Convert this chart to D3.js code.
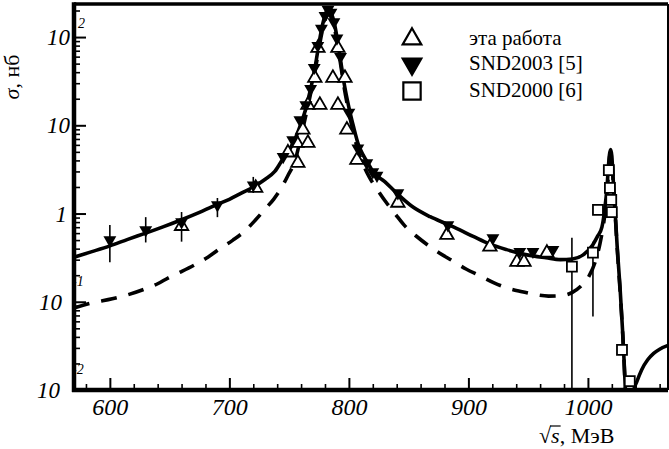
<!DOCTYPE html>
<html>
<head>
<meta charset="utf-8">
<script src="https://cdn.jsdelivr.net/npm/d3@7"></script>
<style>
  html, body { margin: 0; padding: 0; background: #fff; }
  svg { display: block; }
</style>
</head>
<body>
<svg id="chart" width="669" height="449"></svg>
<script>
// Full fit: energy (MeV) and cross-section (nb)
const fitEnergy = [570, 585, 600, 615, 630, 645, 660, 675, 690, 700, 710, 720, 730, 738, 745, 750, 755,
  760, 764, 768, 771, 774, 777, 780, 782.5, 785, 788, 790, 793, 796, 800, 804, 808, 812, 816, 820,
  830, 840, 853, 868, 882, 890, 904, 918, 932, 949, 965, 977, 987, 996, 1004, 1008, 1011.7, 1014,
  1016, 1017, 1018, 1019, 1020, 1021, 1022.6, 1024.5, 1026.8, 1029.3, 1031, 1032, 1033.5,
  1036.5, 1038, 1041, 1045, 1050, 1055, 1060, 1067];
const fitSigma = [0.32, 0.37, 0.43, 0.51, 0.60, 0.71, 0.85, 1.03, 1.27, 1.45, 1.70, 2.0, 2.45, 3.0, 4.2, 5.2, 7.0,
  10.5, 15.5, 26, 40, 70, 120, 175, 210, 190, 140, 100, 55, 30, 16, 9.5, 6.0, 4.6, 3.7, 3.0,
  2.3, 1.7, 1.2, 0.92, 0.76, 0.68, 0.55, 0.45, 0.39, 0.34, 0.315, 0.30, 0.305, 0.34, 0.44, 0.55, 0.70, 1.1,
  2.0, 3.2, 4.6, 5.3, 4.5, 2.6, 1.15, 0.42, 0.15, 0.04, 0.013, 0.006, 0.0008,
  0.0008, 0.0095, 0.0125, 0.017, 0.022, 0.026, 0.029, 0.032];

// Dashed curve
const dashEnergy = [570, 585, 602, 615, 627, 640, 649, 660, 671, 682, 692, 703, 713, 722, 730, 737, 743, 749,
  755, 760, 764, 768, 771, 774, 777, 780, 782.5, 785, 788, 790, 793, 796, 800, 804, 808, 812, 817,
  824, 831, 839, 847, 856, 866, 876, 887, 898, 910, 921, 932, 945, 957, 967, 977, 987, 994, 1001,
  1006, 1010, 1013, 1015, 1017, 1018, 1019, 1020, 1021, 1022.6, 1024.5, 1026.8, 1029.3, 1031, 1033];
const dashSigma = [0.085, 0.097, 0.108, 0.12, 0.136, 0.16, 0.187, 0.22, 0.262, 0.32, 0.40, 0.50, 0.635, 0.85, 1.13, 1.45, 1.9, 2.7,
  4.0, 7.5, 13, 23, 37, 62, 105, 155, 185, 170, 125, 90, 50, 27, 14, 8, 5.0, 3.6, 2.6,
  1.85, 1.35, 0.98, 0.72, 0.56, 0.44, 0.355, 0.29, 0.235, 0.196, 0.165, 0.144, 0.13, 0.12, 0.116, 0.117, 0.128, 0.15, 0.196,
  0.28, 0.45, 0.75, 1.2, 2.6, 4.2, 5.0, 4.3, 2.5, 1.1, 0.4, 0.14, 0.038, 0.012, 0.002];

// This work (open triangles)
const workEnergy = [660, 722, 749, 756.5, 757.3, 761.5, 765.7, 765.7, 771.5, 774.1, 775.7, 786.6, 790.8, 790.8,
  796.7, 798.3, 806.7, 841, 882, 918, 940.6, 946.5, 965.7];
const workSigma = [0.72, 1.95, 4.9, 6.3, 3.74, 8.9, 17, 6.3, 34.4, 75, 17, 34.4, 75, 17,
  34.4, 8.9, 4.05, 1.32, 0.57, 0.42, 0.283, 0.283, 0.358];

// SND2003 (filled triangles) with error bounds
const snd03Energy = [600, 630, 660, 690, 720, 745, 753, 759, 764, 768, 771, 774, 777, 780, 782.5, 785, 787.5, 790,
  793, 800, 807.5, 815, 820, 823.5, 841, 882.8, 920.5, 943, 954, 970.7];
const snd03Sigma = [0.50, 0.65, 0.80, 1.25, 2.1, 4.4, 6.8, 11.5, 17, 26, 45, 80, 125, 175, 205, 190, 148, 97,
  60, 14, 5.5, 3.74, 2.96, 2.7, 1.71, 0.74, 0.53, 0.37, 0.37, 0.39];
const snd03Lo = [0.28, 0.47, 0.48, 0.91, 1.71];
const snd03Hi = [0.74, 0.91, 1.04, 1.5, 2.6];

// SND2000 (open squares) with error bounds
const snd00Energy = [986.6, 1004.2, 1008.4, 1017.5, 1018.4, 1019.5, 1020, 1028.5, 1035];
const snd00Sigma = [0.25, 0.36, 1.1, 3.1, 1.95, 1.43, 1.04, 0.0285, 0.0126];
const snd00Lo = [0.001, 0.068];
const snd00Hi = [0.53, 0.48];

const xTicks = [600, 700, 800, 900, 1000];
const yTicks = [100, 10, 1, 0.1, 0.01];
const yTickBase = ["10", "10", "1", "10", "10"];
const yTickExp = ["2", "", "", "-1", "-2"];
const legendLabels = ["эта работа", "SND2003 [5]", "SND2000 [6]"];

const serif = "'Liberation Serif'";
const svg = d3.select("#chart");
const pLeft = 74, pRight = 668, pTop = 4, pBottom = 390;

const x = d3.scaleLinear().domain([570, 1067]).range([pLeft, pRight]);
const y = d3.scaleLog().domain([0.01, 237]).range([pBottom, pTop]);

svg.append("defs").append("clipPath").attr("id", "plotClip")
  .append("rect").attr("x", pLeft).attr("y", pTop).attr("width", pRight - pLeft).attr("height", pBottom - pTop);

const plot = svg.append("g").attr("clip-path", "url(#plotClip)");

const line = d3.line().x(d => x(d[0])).y(d => y(d[1])).curve(d3.curveMonotoneX);

plot.append("path")
  .datum(d3.zip(dashEnergy, dashSigma))
  .attr("d", line).attr("fill", "none").attr("stroke", "#000")
  .attr("stroke-width", 3.6).attr("stroke-dasharray", "16,12");

plot.append("path")
  .datum(d3.zip(fitEnergy, fitSigma))
  .attr("d", line).attr("fill", "none").attr("stroke", "#000")
  .attr("stroke-width", 3.6).attr("stroke-linejoin", "round");

// error bars
const bars = [];
snd03Lo.forEach((lo, i) => bars.push([snd03Energy[i], lo, snd03Hi[i]]));
snd00Lo.forEach((lo, i) => bars.push([snd00Energy[i], lo, snd00Hi[i]]));
plot.selectAll("line.err").data(bars).join("line").attr("class", "err")
  .attr("x1", d => x(d[0])).attr("x2", d => x(d[0]))
  .attr("y1", d => y(d[1])).attr("y2", d => y(d[2]))
  .attr("stroke", "#000").attr("stroke-width", 1.6);

const square = d3.symbol(d3.symbolSquare, 100);
const triUp = d3.symbol(d3.symbolTriangle, 78);
const triDown = d3.symbol(d3.symbolTriangle, 72);

plot.selectAll("path.snd00").data(d3.zip(snd00Energy, snd00Sigma)).join("path").attr("class", "snd00")
  .attr("d", square).attr("transform", d => `translate(${x(d[0])},${y(d[1])})`)
  .attr("fill", "#fff").attr("stroke", "#000").attr("stroke-width", 1.8);

plot.selectAll("path.work").data(d3.zip(workEnergy, workSigma)).join("path").attr("class", "work")
  .attr("d", triUp).attr("transform", d => `translate(${x(d[0])},${y(d[1])})`)
  .attr("fill", "#fff").attr("stroke", "#000").attr("stroke-width", 1.8);

plot.selectAll("path.snd03").data(d3.zip(snd03Energy, snd03Sigma)).join("path").attr("class", "snd03")
  .attr("d", triDown).attr("transform", d => `translate(${x(d[0])},${y(d[1])}) rotate(180)`)
  .attr("fill", "#000");

// exponent marks of the y labels sit partly under the axis bar
const ySup = svg.append("g").attr("font-size", 14).attr("font-style", "italic");
yTicks.forEach((v, i) => {
  if (!yTickExp[i]) return;
  const isNeg = yTickExp[i][0] === "-";
  ySup.append("text")
    .attr("x", isNeg ? 72 : 78)
    .attr("y", y(v) - (isNeg ? 16 : 9))
    .text(yTickExp[i]);
});

// axes: ticks point inward
const yMinor = [];
[0.01, 0.1, 1, 10, 100].forEach(d => { for (let k = 2; k <= 9; k++) if (d * k < 237) yMinor.push(d * k); });
svg.append("g").attr("transform", `translate(${pLeft},0)`)
  .call(d3.axisLeft(y).tickValues(yMinor).tickSize(-6).tickFormat(""))
  .call(g => g.select(".domain").remove())
  .call(g => g.selectAll("line").attr("stroke-width", 1.6));
svg.append("g").attr("transform", `translate(${pLeft},0)`)
  .call(d3.axisLeft(y).tickValues(yTicks).tickSize(-12).tickFormat(""))
  .call(g => g.select(".domain").remove())
  .call(g => g.selectAll("line").attr("stroke-width", 2));

const xMinor = d3.range(580, 1067, 20).filter(v => v % 100 !== 0);
svg.append("g").attr("transform", `translate(0,${pBottom})`)
  .call(d3.axisBottom(x).tickValues(xMinor).tickSize(-6).tickFormat(""))
  .call(g => g.select(".domain").remove())
  .call(g => g.selectAll("line").attr("stroke-width", 1.6));
svg.append("g").attr("transform", `translate(0,${pBottom})`)
  .call(d3.axisBottom(x).tickValues(xTicks).tickSize(-12).tickPadding(8).tickFormat(d3.format("d")))
  .call(g => g.select(".domain").remove())
  .call(g => g.selectAll("line").attr("stroke-width", 2))
  .call(g => g.selectAll("text")
    .attr("font-size", 24).attr("font-style", "italic").attr("fill", "#000"));

// y tick labels
const yLabelRight = [70, 70, 67, 62, 60];
svg.append("g").attr("font-size", 23).attr("font-style", "italic")
  .selectAll("text").data(yTicks).join("text")
  .attr("x", (d, i) => yLabelRight[i]).attr("y", d => y(d) + 8)
  .attr("text-anchor", "end")
  .text((d, i) => yTickBase[i]);

// frame
svg.append("line").attr("x1", pLeft).attr("x2", pRight).attr("y1", pTop).attr("y2", pTop)
  .attr("stroke", "#000").attr("stroke-width", 3.5);
svg.append("line").attr("x1", pRight).attr("x2", pRight).attr("y1", pTop).attr("y2", pBottom)
  .attr("stroke", "#000").attr("stroke-width", 2);
svg.append("line").attr("x1", pLeft).attr("x2", pLeft).attr("y1", pTop - 1.75).attr("y2", pBottom + 2)
  .attr("stroke", "#000").attr("stroke-width", 4.5);
svg.append("line").attr("x1", pLeft - 2).attr("x2", pRight).attr("y1", pBottom).attr("y2", pBottom)
  .attr("stroke", "#000").attr("stroke-width", 4.5);

// axis titles
const yTitle = svg.append("text").attr("transform", "translate(19,77) rotate(-90)")
  .attr("text-anchor", "middle").attr("font-size", 22);
yTitle.append("tspan").attr("font-style", "italic").text("σ");
yTitle.append("tspan").text(", нб");

const xTitle = svg.append("text").attr("x", 539).attr("y", 443).attr("font-size", 22);
xTitle.append("tspan").text("√");
xTitle.append("tspan").attr("font-style", "italic").text("s");
xTitle.append("tspan").text(", МэВ");

// legend
const legend = svg.append("g");
const legendY = [39, 64, 91];
const legendSymbols = [
  { d: d3.symbol(d3.symbolTriangle, 150)(), rot: 0, fill: "#fff" },
  { d: d3.symbol(d3.symbolTriangle, 150)(), rot: 180, fill: "#000" },
  { d: d3.symbol(d3.symbolSquare, 300)(), rot: 0, fill: "#fff" }
];
legendSymbols.forEach((s, i) => {
  legend.append("path").attr("d", s.d)
    .attr("transform", `translate(412,${legendY[i]}) rotate(${s.rot})`)
    .attr("fill", s.fill).attr("stroke", "#000").attr("stroke-width", 2.2);
  legend.append("text").attr("x", 469).attr("y", legendY[i] + 6)
    .attr("font-size", 21).text(legendLabels[i]);
});

// all lettering in a serif face
svg.selectAll("text").style("font-family", serif).style("fill", "#000");

// bar over the s of the root sign
const rootBox = xTitle.node().getExtentOfChar(0);
const sBox = xTitle.node().getExtentOfChar(1);
svg.append("line")
  .attr("x1", rootBox.x + rootBox.width - 1).attr("x2", sBox.x + sBox.width + 1)
  .attr("y1", rootBox.y + 3).attr("y2", rootBox.y + 3)
  .attr("stroke", "#000").attr("stroke-width", 1.2);
</script>
</body>
</html>
